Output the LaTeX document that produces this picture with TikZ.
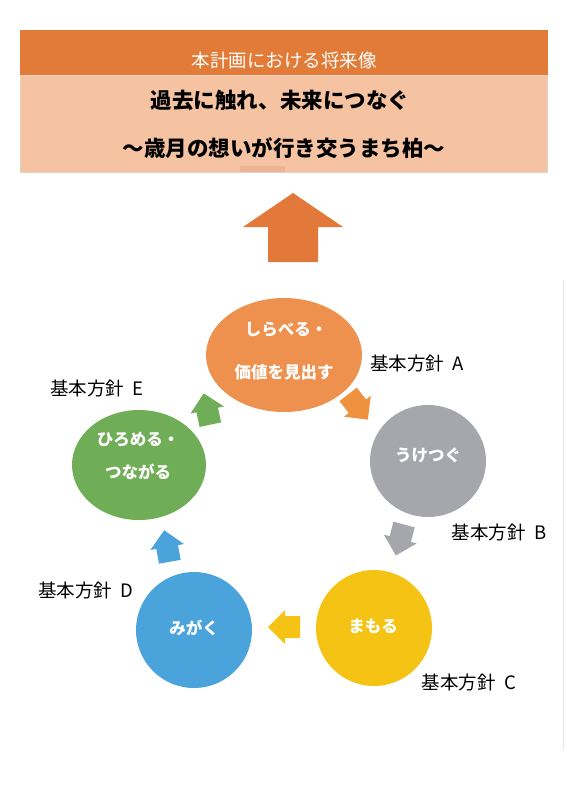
\documentclass[tikz,border=0pt]{standalone}
\usepackage{fontspec}
\setmainfont{Noto Sans CJK JP}
\definecolor{hdr}{HTML}{E27B37}
\definecolor{lbox}{HTML}{F5C3A2}
\definecolor{lboxedge}{HTML}{E3D2C7}
\definecolor{patch}{HTML}{EEB393}
\definecolor{uparr}{HTML}{E2793A}
\definecolor{cA}{HTML}{EE914F}
\definecolor{cB}{HTML}{A5A7AD}
\definecolor{cC}{HTML}{F5C314}
\definecolor{cD}{HTML}{4BA3DC}
\definecolor{cE}{HTML}{70AD57}
\definecolor{aA}{HTML}{EE9240}
\definecolor{faint}{HTML}{E6E6E6}
\tikzset{
  x=1pt,y=-1pt,
  barrow/.pic={\path[pic actions] (16,0) -- (-1,17) -- (-1,11) -- (-16,11) -- (-16,-11) -- (-1,-11) -- (-1,-17) -- cycle;},
  intext/.style={text=white,font=\fontsize{16.5}{18}\selectfont\bfseries,inner sep=0pt},
  lbl/.style={text=black,font=\fontsize{18.5}{20}\selectfont,inner sep=0pt},
  ttl/.style={text=black,font=\fontsize{21.5}{24}\selectfont\bfseries,inner sep=0pt},
}
\newcommand{\lblsp}{\hspace{0.45em}}
\begin{document}
\begin{tikzpicture}
\useasboundingbox (0,0) rectangle (566,800);
\fill[white] (0,0) rectangle (566,800);
% header
\fill[hdr] (20,30) rectangle (548,75);
\filldraw[fill=lbox,draw=lboxedge,line width=1pt] (20.5,75) rectangle (547.5,172);
\fill[patch] (240,166) rectangle (285,172);
\node[text=white,font=\fontsize{18.5}{20}\selectfont,inner sep=0pt] (hdrtext) at (284,60) {本計画における将来像};
\node[ttl] (t1) at (280,100) {過去に触れ、未来につなぐ};
\node[ttl] (t2) at (284,148) {～歳月の想いが行き交うまち柏～};
% up arrow
\fill[uparr] (293,193) -- (343,227) -- (318,227) -- (318,262) -- (268,262) -- (268,227) -- (243,227) -- cycle;
% faint line
\draw[faint,line width=1pt] (563,280) -- (563,750);
% circles
\fill[cA] (284,355) ellipse [x radius=78, y radius=57];
\fill[cB] (428,461) ellipse [x radius=58, y radius=56];
\fill[cC] (374,628) circle [radius=58];
\fill[cD] (194,630) circle [radius=58];
\fill[cE] (139,465) ellipse [x radius=67, y radius=55];
\node[intext] (a1) at (286,330) {しらべる・};
\node[intext] (a2) at (284,372) {価値を見出す};
\node[intext] (b1) at (428,455) {うけつぐ};
\node[intext] (c1) at (373,626) {まもる};
\node[intext] (d1) at (194,628) {みがく};
\node[intext] (e1) at (138,440) {ひろめる・};
\node[intext] (e2) at (138,472) {つながる};
% labels
\node[lbl] (la) at (417,363) {基本方針\lblsp A};
\node[lbl] (lb) at (499,532) {基本方針\lblsp B};
\node[lbl] (lc) at (469,682) {基本方針\lblsp C};
\node[lbl] (ld) at (86,590) {基本方針\lblsp D};
\node[lbl] (le) at (97,388) {基本方針\lblsp E};
% block arrows
\pic[fill=aA,rotate=-52] at (358,407) {barrow};
\pic[fill=cB,rotate=-105] at (400,540) {barrow};
\pic[fill=cC,rotate=180] at (284,627) {barrow};
\pic[fill=cD,rotate=100] at (167,546) {barrow};
\pic[fill=cE,rotate=102] at (207,409) {barrow};
\end{tikzpicture}
\end{document}
